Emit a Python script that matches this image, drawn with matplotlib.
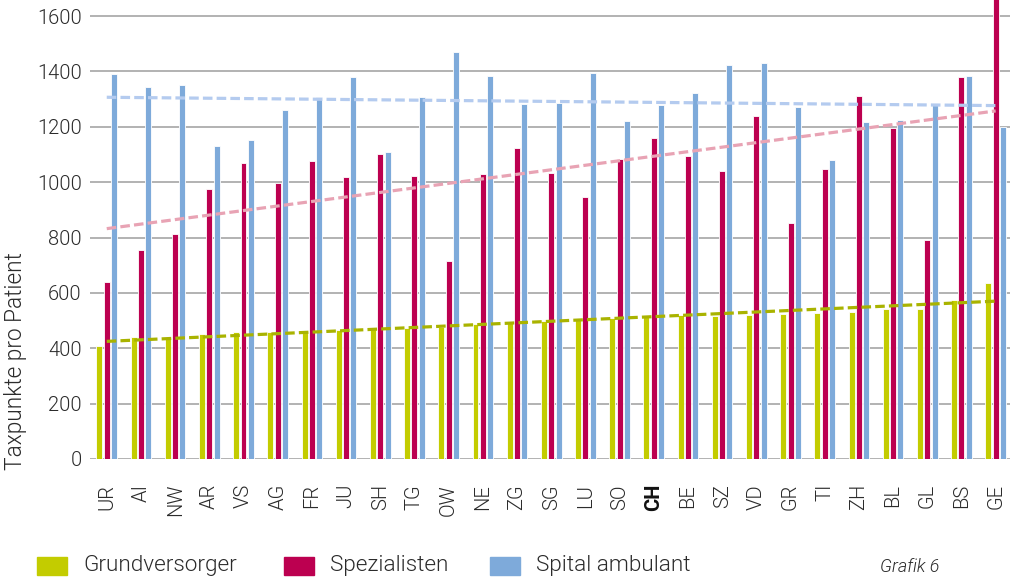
import numpy as np
import matplotlib
matplotlib.use("Agg")
import matplotlib.pyplot as plt
from matplotlib.patches import Rectangle

cantons = ["UR", "AI", "NW", "AR", "VS", "AG", "FR", "JU", "SH", "TG", "OW", "NE", "ZG",
           "SG", "LU", "SO", "CH", "BE", "SZ", "VD", "GR", "TI", "ZH", "BL", "GL", "BS", "GE"]
grundversorger = [409, 439, 438, 452, 457, 457, 460, 466, 468, 474, 478, 488, 494,
                  498, 504, 508, 514, 520, 518, 520, 523, 526, 532, 541, 541, 573, 635]
spezialisten = [640, 755, 811, 976, 1070, 998, 1077, 1020, 1101, 1024, 714, 1028, 1124,
                1032, 947, 1083, 1158, 1094, 1041, 1240, 851, 1046, 1311, 1194, 791, 1381, 1700]
spital = [1390, 1345, 1351, 1131, 1153, 1259, 1308, 1380, 1110, 1306, 1471, 1382, 1281,
          1286, 1395, 1222, 1278, 1323, 1423, 1429, 1272, 1081, 1216, 1224, 1278, 1382, 1198]
series_names = ["Grundversorger", "Spezialisten", "Spital ambulant"]
yticks = [0, 200, 400, 600, 800, 1000, 1200, 1400, 1600]

colors = ["#C3CC00", "#BC0050", "#7EAADA"]
trend_colors = ["#A9B300", "#E8A3B4", "#B4CBEF"]

plt.rcParams['font.family'] = ['Roboto', 'DejaVu Sans']
plt.rcParams['font.weight'] = 300
TXT = "#2b2b2b"

W, H = 1019, 579
fig = plt.figure(figsize=(W / 100, H / 100), dpi=100)
ax = fig.add_axes([90 / W, 1 - 459 / H, (1010 - 90) / W, 459 / H])

x = np.arange(len(cantons))
offs = [-0.214, 0.0, 0.214]
width = 0.175
data = [grundversorger, spezialisten, spital]
for d, off, c in zip(data, offs, colors):
    ax.bar(x + off, d, width=width, color=c, edgecolor="white", linewidth=0.6, zorder=3)

for d, tc in zip(data, trend_colors):
    p = np.polyfit(x, d, 1)
    ax.plot([x[0], x[-1]], np.polyval(p, [x[0], x[-1]]), color=tc, lw=2.3,
            linestyle=(0, (3, 1.3)), zorder=4)

ax.set_xlim(-0.49, 26.42)
ax.set_ylim(0, 1658)
ax.set_yticks(yticks)
ax.set_yticklabels([str(v) for v in yticks], fontsize=14.5, color=TXT, fontweight=300)
ax.yaxis.grid(True, color="#A6A6A6", linewidth=1.2, zorder=0)
ax.set_axisbelow(True)
for s in ax.spines.values():
    s.set_visible(False)
ax.tick_params(axis="both", length=0)
ax.tick_params(axis="y", pad=6)
ax.set_xticks(x)
ax.set_xticklabels(cantons, rotation=90, fontsize=14.5, color=TXT, fontweight=300)
ax.tick_params(axis="x", pad=18)
for lbl in ax.get_xticklabels():
    if lbl.get_text() == "CH":
        lbl.set_fontweight("bold")
        lbl.set_color("#111111")

fig.text(16 / W, 1 - 361 / H, "Taxpunkte pro Patient", rotation=90, fontsize=16.3,
         color=TXT, ha="center", va="center", fontweight=300)

# legend
leg_items = [(37, series_names[0], colors[0]), (284, series_names[1], colors[1]),
             (490, series_names[2], colors[2])]
for lx, name, c in leg_items:
    fig.patches.append(Rectangle((lx / W, 1 - 575 / H), 30 / W, 18 / H,
                                 transform=fig.transFigure, color=c))
    fig.text((lx + 46) / W, 1 - 566 / H, name, fontsize=16.2, color=TXT,
             ha="left", va="center", fontweight=300)
fig.text(880 / W, 1 - 567 / H, "Grafik 6", fontsize=13, style="italic",
         color=TXT, ha="left", va="center", fontweight=300)

fig.savefig("out.png", dpi=100)
